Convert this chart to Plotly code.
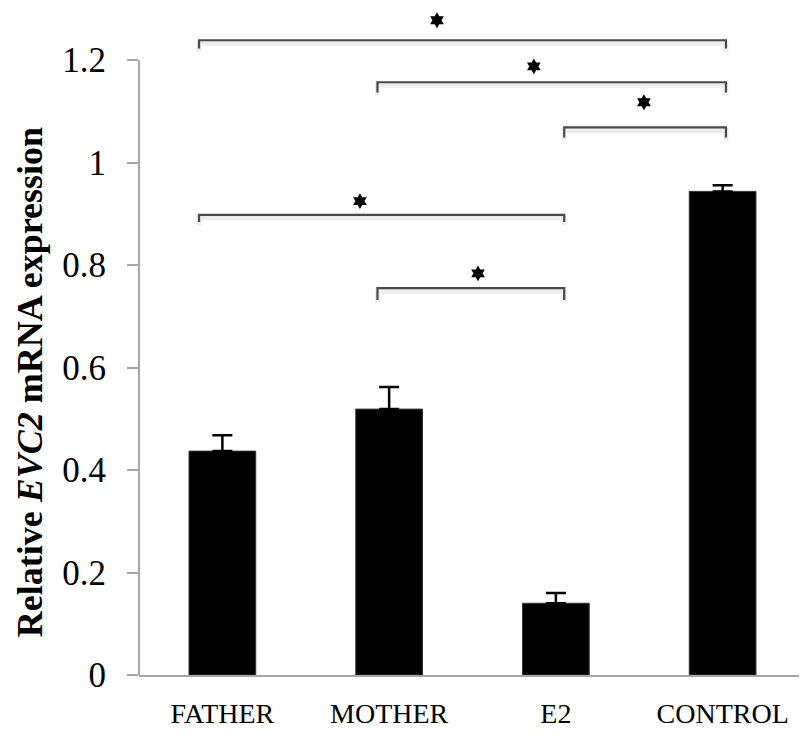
import plotly.graph_objects as go

categories = ["FATHER", "MOTHER", "E2", "CONTROL"]
values = [0.437, 0.519, 0.140, 0.944]
errors = [0.031, 0.043, 0.020, 0.012]

y_ticks = [0, 0.2, 0.4, 0.6, 0.8, 1.0, 1.2]
y_tick_labels = ["0", "0.2", "0.4", "0.6", "0.8", "1", "1.2"]

# significance brackets (category-index coordinates)
bracket_left = [-0.14, 0.93, 2.05, -0.14, 0.93]
bracket_right = [3.02, 3.02, 3.02, 2.05, 2.05]
bracket_y = [1.239, 1.157, 1.069, 0.898, 0.755]
bracket_drop = [0.016, 0.020, 0.020, 0.014, 0.023]
star_x = [1.287, 1.868, 2.528, 0.825, 1.533]
star_y = [1.278, 1.188, 1.118, 0.925, 0.784]

serif = "Liberation Serif, Times New Roman, serif"
xpos = list(range(len(categories)))

fig = go.Figure()
fig.add_trace(go.Bar(
    x=xpos, y=values, width=0.40,
    marker=dict(color="black", line=dict(color="#333333", width=1)),
    error_y=dict(type="data", symmetric=False, array=errors,
                 arrayminus=[0] * len(errors),
                 color="black", thickness=2.5, width=10),
    showlegend=False, hoverinfo="skip",
))

for xl, xr, yb, d in zip(bracket_left, bracket_right, bracket_y, bracket_drop):
    # faint shadow
    fig.add_trace(go.Scatter(
        x=[xl, xl, xr, xr], y=[yb - d - 0.006, yb - 0.006, yb - 0.006, yb - d - 0.006],
        mode="lines", line=dict(color="rgba(0,0,0,0.07)", width=5),
        showlegend=False, hoverinfo="skip"))
    fig.add_trace(go.Scatter(
        x=[xl, xl, xr, xr], y=[yb - d, yb, yb, yb - d],
        mode="lines", line=dict(color="#4a4a4a", width=2.2),
        showlegend=False, hoverinfo="skip"))

fig.add_trace(go.Scatter(
    x=star_x, y=star_y, mode="markers",
    marker=dict(symbol="hexagram", size=12, color="black"),
    cliponaxis=False, showlegend=False, hoverinfo="skip"))

# y axis line only up to 1.2
fig.add_shape(type="line", xref="paper", yref="y", x0=0, x1=0, y0=0, y1=1.2,
              line=dict(color="#a6a6a6", width=2))

fig.add_annotation(
    text="<b>Relative <i>EVC2</i> mRNA expression</b>",
    xref="paper", yref="paper", x=-0.163, y=0.44,
    textangle=-90, showarrow=False,
    font=dict(family=serif, size=36, color="black"),
    xanchor="center", yanchor="middle")

fig.update_layout(
    width=799, height=727,
    margin=dict(l=131, r=1, t=1, b=60),
    plot_bgcolor="white", paper_bgcolor="white",
    xaxis=dict(
        range=[-0.5, 3.5], tickvals=xpos, ticktext=categories,
        showgrid=False, zeroline=False, showline=True,
        linecolor="#a6a6a6", linewidth=2, ticks="",
        tickfont=dict(family=serif, size=28, color="black"),
        ticklabelstandoff=12,
    ),
    yaxis=dict(
        range=[0, 1.3], tickvals=y_ticks, ticktext=y_tick_labels,
        showgrid=False, zeroline=False, showline=False,
        ticks="outside", ticklen=11, tickwidth=2, tickcolor="#a6a6a6",
        tickfont=dict(family=serif, size=35, color="black"),
        ticklabelstandoff=14,
    ),
)

fig.write_html("out.html")
